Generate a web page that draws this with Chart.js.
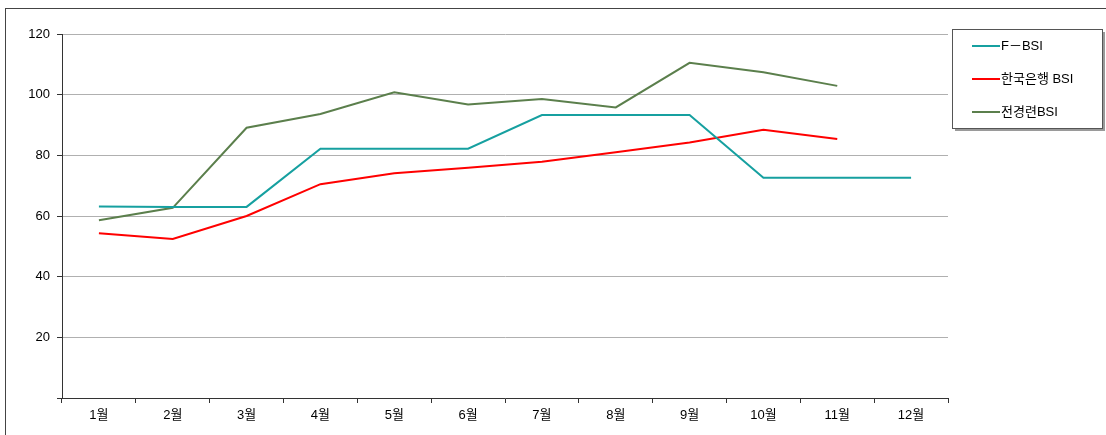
<!DOCTYPE html>
<html>
<head>
<meta charset="utf-8" />
<script src="https://cdn.jsdelivr.net/npm/chart.js@4.4.0/dist/chart.umd.min.js"></script>
<style>
  html, body { margin:0; padding:0; background:#fff; }
  #frame { position:absolute; left:5px; top:8px; width:1101px; height:427px; border-left:1px solid #444; border-top:1px solid #444; }
  #holder { position:absolute; left:0; top:0; width:1106px; height:435px; }
</style>
</head>
<body>
<div id="frame"></div>
<div id="holder"><canvas id="bsiChart" width="1106" height="435"></canvas></div>
<script>
const months = ['1월','2월','3월','4월','5월','6월','7월','8월','9월','10월','11월','12월'];
const fBsi    = [63.1, 63.0, 63.0, 82.2, 82.2, 82.2, 93.3, 93.3, 93.3, 72.6, 72.6, 72.6];
const bokBsi  = [54.3, 52.4, 60.0, 70.5, 74.1, 75.9, 77.9, 81.0, 84.2, 88.4, 85.4, null];
const fkiBsi  = [58.6, 62.7, 89.1, 93.6, 100.8, 96.8, 98.6, 95.8, 110.5, 107.4, 102.9, null];
const seriesNames = ['F－BSI', '한국은행 BSI', '전경련BSI'];
const seriesColors = ['#16a0a0', '#ff0000', '#5b7f4c'];

const FONT = "'Liberation Sans', 'Noto Sans CJK KR', sans-serif";

// legend box drawn on the canvas, like the spreadsheet one
const boxLegend = {
  id: 'boxLegend',
  afterDraw(chart) {
    const ctx = chart.ctx;
    const x = 952, y = 29, w = 150, h = 99;
    ctx.save();
    ctx.fillStyle = '#9a9a9a';
    ctx.fillRect(x + 3, y + 3, w, h);
    ctx.fillStyle = '#fff';
    ctx.fillRect(x, y, w, h);
    ctx.strokeStyle = '#555';
    ctx.lineWidth = 1;
    ctx.strokeRect(x + 0.5, y + 0.5, w, h);
    ctx.font = '13px ' + FONT;
    ctx.textBaseline = 'middle';
    chart.data.datasets.forEach((ds, i) => {
      const ry = 46 + i * 33;
      ctx.strokeStyle = ds.borderColor;
      ctx.lineWidth = 2;
      ctx.beginPath();
      ctx.moveTo(972, ry);
      ctx.lineTo(1000, ry);
      ctx.stroke();
      ctx.fillStyle = '#000';
      ctx.fillText(ds.label, 1001, ry);
    });
    ctx.restore();
  }
};

new Chart(document.getElementById('bsiChart'), {
  type: 'line',
  data: {
    labels: months,
    datasets: [fBsi, bokBsi, fkiBsi].map((d, i) => ({
      label: seriesNames[i],
      data: d,
      borderColor: seriesColors[i],
      backgroundColor: seriesColors[i],
      borderWidth: 2,
      pointRadius: 0,
      tension: 0,
      spanGaps: false
    }))
  },
  options: {
    responsive: false,
    animation: false,
    layout: { padding: { left: 0, top: 34, right: 158, bottom: 0 } },
    plugins: { legend: { display: false }, tooltip: { enabled: false } },
    scales: {
      x: {
        offset: true,
        grid: { offset: true, drawOnChartArea: false, drawTicks: true, tickLength: 5, tickColor: '#333' },
        border: { display: true, color: '#333', width: 1 },
        ticks: { color: '#000', font: { family: FONT, size: 13 }, padding: 5, maxRotation: 0 },
        afterFit(s) { s.height = 37; }
      },
      y: {
        min: 0, max: 120,
        grid: { color: '#b0b0b0', tickLength: 5, tickColor: '#333' },
        border: { display: true, color: '#333', width: 1 },
        ticks: {
          stepSize: 20, color: '#000', padding: 7,
          font: { family: FONT, size: 13 },
          callback: v => v === 0 ? '' : v
        },
        afterFit(s) { s.width = 62; }
      }
    }
  },
  plugins: [boxLegend]
});
</script>
</body>
</html>
